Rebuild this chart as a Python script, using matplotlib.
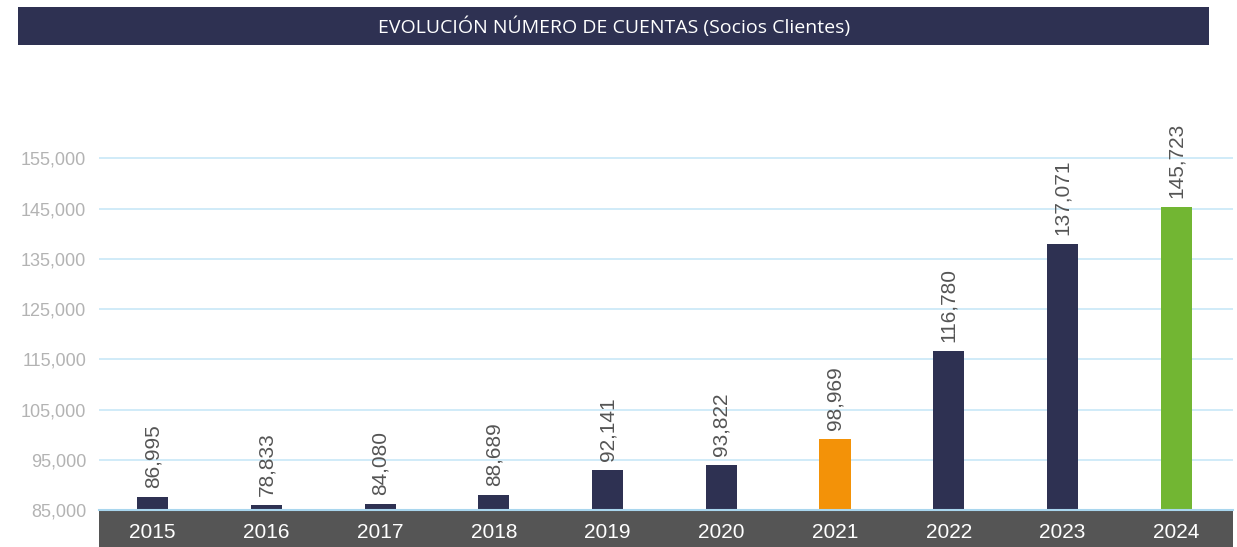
import matplotlib
matplotlib.use("Agg")
import matplotlib.pyplot as plt
from matplotlib.patches import Rectangle

plt.rcParams['font.family'] = ['Liberation Sans', 'DejaVu Sans']

# ---- data ----
years = ["2015", "2016", "2017", "2018", "2019", "2020", "2021", "2022", "2023", "2024"]
value_labels = ["86,995", "78,833", "84,080", "88,689", "92,141", "93,822",
                "98,969", "116,780", "137,071", "145,723"]
# bar heights as drawn in the reference
bar_heights = [87600, 86000, 86200, 88000, 92950, 93950, 99150, 116700, 138000, 145350]
bar_colors = ["#2e3152"] * 6 + ["#f39208"] + ["#2e3152"] * 2 + ["#72b633"]
yticks = [85000, 95000, 105000, 115000, 125000, 135000, 145000, 155000]
title = "EVOLUCIÓN NÚMERO DE CUENTAS (Socios Clientes)"

W, H = 1237, 547
fig = plt.figure(figsize=(W / 100, H / 100), dpi=100)
fig.patch.set_facecolor("white")

ax_left, ax_right = 98.7, 1233
ax_top, ax_bottom = 133.2, 510
ax = fig.add_axes([ax_left / W, (H - ax_bottom) / H,
                   (ax_right - ax_left) / W, (ax_bottom - ax_top) / H])
ax.set_zorder(2)

# title bar
fig.patches.append(Rectangle((18 / W, (H - 45) / H), (1209 - 18) / W, 38 / H,
                             transform=fig.transFigure, facecolor="#2e3152",
                             edgecolor="none", zorder=-1))
fig.text(614 / W, (H - 26.5) / H, title, color="white", fontsize=14,
         family=["Open Sans", "DejaVu Sans"], ha="center", va="center")

# x band
fig.patches.append(Rectangle((ax_left / W, 0), (ax_right - ax_left) / W, (H - ax_bottom) / H,
                             transform=fig.transFigure, facecolor="#555555",
                             edgecolor="none", zorder=-1))

x = list(range(len(years)))
ax.bar(x, [h - 85000 for h in bar_heights], bottom=85000, width=0.273,
       color=bar_colors, zorder=3)

for xi, h, lab in zip(x, bar_heights, value_labels):
    ax.annotate(lab, (xi, h), xytext=(0, 6.5), textcoords="offset points",
                rotation=90, ha="center", va="bottom", fontsize=15,
                color="#555555", annotation_clip=False)

ax.set_xlim(-0.475, 9.5)
ax.set_ylim(85000, 160000)
ax.set_yticks(yticks)
ax.set_yticklabels([f"{v:,}" for v in yticks])
ax.set_xticks(x)
ax.set_xticklabels(years)
ax.tick_params(axis="y", length=0, pad=9, labelsize=13, labelcolor="#b3b3b3")
ax.tick_params(axis="x", length=0, pad=9.5, labelsize=15, labelcolor="white")
ax.grid(axis="y", color="#c8e8f7", linewidth=1.2, zorder=0)
ax.set_axisbelow(True)
for s in ["top", "right", "left"]:
    ax.spines[s].set_visible(False)
ax.spines["bottom"].set_color("#a9d6ee")
ax.spines["bottom"].set_linewidth(1.5)
ax.spines["bottom"].set_zorder(4)
ax.set_facecolor("none")

fig.savefig("out.png", dpi=100, facecolor="white")
